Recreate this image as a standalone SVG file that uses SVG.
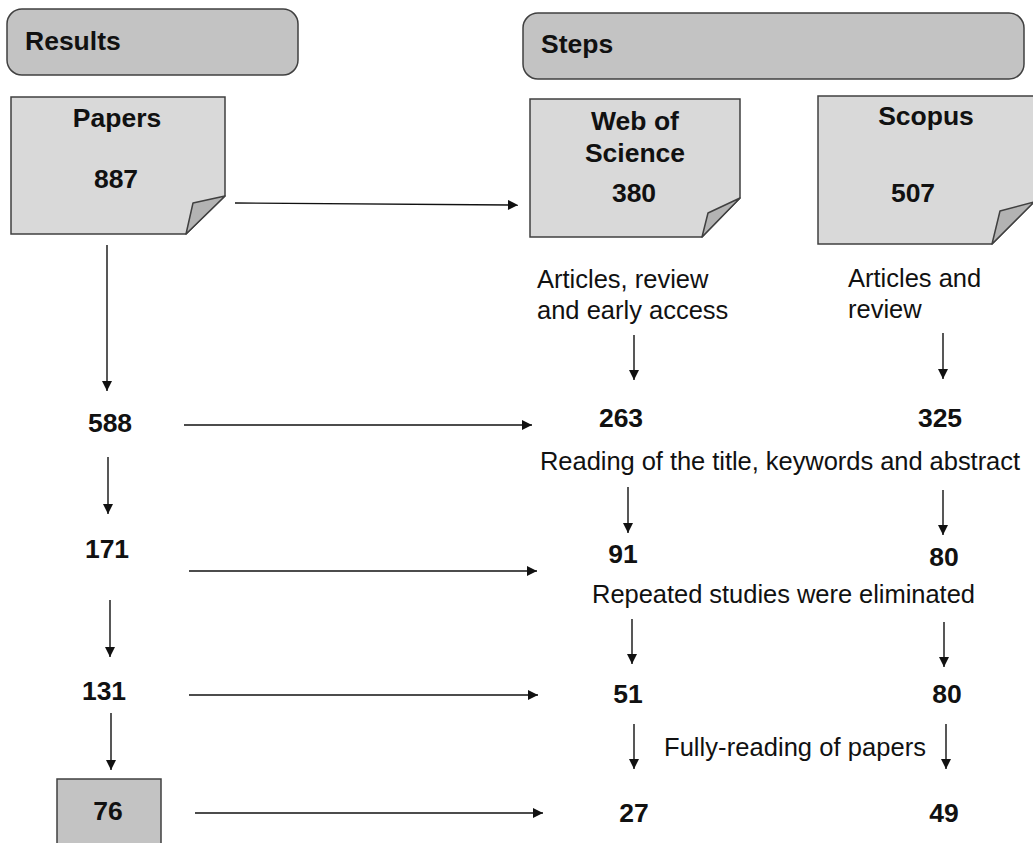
<svg xmlns="http://www.w3.org/2000/svg" width="1033" height="843" viewBox="0 0 1033 843">
<defs>
<style>
.hdr{fill:#c3c3c3;stroke:#404040;stroke-width:1.5}
.note{fill:#d9d9d9;stroke:#404040;stroke-width:1.5}
.flap{fill:#b3b3b3;stroke:#404040;stroke-width:1.5;stroke-linejoin:round}
.b{font-family:"Liberation Sans",Arial,sans-serif;font-weight:bold;font-size:26.5px;fill:#111}
.r{font-family:"Liberation Sans",Arial,sans-serif;font-size:25.5px;fill:#111}
.m{text-anchor:middle}
.c line{stroke:#111;stroke-width:1.4;marker-end:url(#ah)}
</style>
<marker id="ah" viewBox="0 0 10 10" refX="10" refY="5" markerWidth="11" markerHeight="10" markerUnits="userSpaceOnUse" orient="auto">
<path d="M0,0 L10,5 L0,10 z" fill="#111"/>
</marker>
</defs>
<rect width="1033" height="843" fill="#fff"/>

<g id="results-header">
<rect class="hdr" x="7" y="9" width="291" height="66" rx="15"/>
<text class="b" x="25" y="50">Results</text>
</g>
<g id="steps-header">
<rect class="hdr" x="523" y="13" width="501" height="66" rx="15"/>
<text class="b" x="541" y="53">Steps</text>
</g>

<g id="papers">
<path class="note" d="M11,97 H225 V196 L186,234 H11 Z"/>
<path class="flap" d="M186,234 L193,203 L225,196 Z"/>
<text class="b m" x="117" y="127">Papers</text>
<text class="b m" x="116" y="188">887</text>
</g>
<g id="wos">
<path class="note" d="M530,99 H740 V198 L702,237 H530 Z"/>
<path class="flap" d="M702,237 L708,213 L740,198 Z"/>
<text class="b m" x="635" y="130">Web of</text>
<text class="b m" x="635" y="162">Science</text>
<text class="b m" x="634" y="202">380</text>
</g>
<g id="scopus">
<path class="note" d="M818,96 H1040 V202 H1034 L992,244 H818 Z"/>
<path class="flap" d="M992,244 L1000,211 L1034,202 Z"/>
<text class="b m" x="926" y="125">Scopus</text>
<text class="b m" x="913" y="202">507</text>
</g>

<g id="wos-filter"><text class="r" x="537" y="288">Articles, review</text><text class="r" x="537" y="319">and early access</text></g>
<g id="scopus-filter"><text class="r" x="848" y="287">Articles and</text><text class="r" x="848" y="318">review</text></g>

<g id="n588"><text class="b m" x="110" y="432">588</text></g>
<g id="n171"><text class="b m" x="107" y="558">171</text></g>
<g id="n131"><text class="b m" x="104" y="700">131</text></g>
<g id="n76">
<rect x="57" y="779" width="104" height="70" fill="#c3c3c3" stroke="#404040" stroke-width="1.5"/>
<text class="b m" x="108" y="820">76</text>
</g>

<g id="n263"><text class="b m" x="621" y="427">263</text></g>
<g id="n325"><text class="b m" x="940" y="427">325</text></g>
<g id="step-reading"><text class="r" x="540" y="470" textLength="480">Reading of the title, keywords and abstract</text></g>
<g id="n91"><text class="b m" x="623" y="563">91</text></g>
<g id="n80a"><text class="b m" x="944" y="566">80</text></g>
<g id="step-repeated"><text class="r" x="592" y="603" textLength="383">Repeated studies were eliminated</text></g>
<g id="n51"><text class="b m" x="628" y="703">51</text></g>
<g id="n80b"><text class="b m" x="947" y="703">80</text></g>
<g id="step-full"><text class="r" x="664" y="756" textLength="262">Fully-reading of papers</text></g>
<g id="n27"><text class="b m" x="634" y="822">27</text></g>
<g id="n49"><text class="b m" x="944" y="822">49</text></g>

<g id="connectors" class="c">
<line x1="235" y1="203" x2="518" y2="205"/>
<line x1="107" y1="245" x2="107" y2="391"/>
<line x1="184" y1="425" x2="532" y2="425"/>
<line x1="108" y1="457" x2="108" y2="514"/>
<line x1="189" y1="571" x2="537" y2="571"/>
<line x1="110" y1="600" x2="110" y2="657"/>
<line x1="189" y1="695" x2="538" y2="695"/>
<line x1="111" y1="713" x2="111" y2="770"/>
<line x1="195" y1="813" x2="543" y2="813"/>
<line x1="634" y1="335" x2="634" y2="380"/>
<line x1="943" y1="333" x2="943" y2="379"/>
<line x1="628" y1="487" x2="628" y2="533"/>
<line x1="943" y1="490" x2="943" y2="535"/>
<line x1="632" y1="619" x2="632" y2="664"/>
<line x1="944" y1="622" x2="944" y2="667"/>
<line x1="634" y1="724" x2="634" y2="769"/>
<line x1="946" y1="724" x2="946" y2="769"/>
</g>
</svg>
